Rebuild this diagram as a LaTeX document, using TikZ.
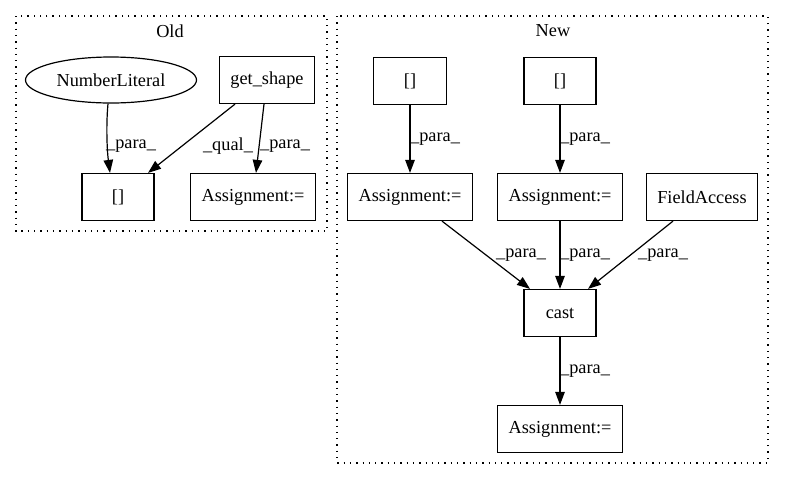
\documentclass[tikz,border=0pt]{standalone}
\usepackage{fontspec}
\setmainfont{Liberation Serif}
\usetikzlibrary{arrows.meta,shapes.geometric}
\begin{document}
\begin{tikzpicture}[x=1pt,y=-1pt,
  every node/.style={font=\fontsize{18.3}{20}\selectfont},
  box/.style={draw,line width=1.2pt,rectangle,minimum height=47pt,inner sep=0pt},
  oval/.style={draw,line width=1.2pt,ellipse,minimum width=171pt,minimum height=46pt,inner sep=0pt},
  cluster/.style={draw,line width=1.2pt,dash pattern=on 1.3pt off 5pt},
  edge/.style={line width=1.2pt,-{Triangle[length=13pt,width=9.5pt]}},
  elabel/.style={inner sep=0pt}]
\useasboundingbox (0,0) rectangle (785,480);
% clusters
\draw[cluster] (16,16) rectangle (327,231);
\node (oldlbl) at (170,31) {Old};
\draw[cluster] (337,16) rectangle (768,463);
\node (newlbl) at (553,31) {New};
% Old nodes
\node[oval] (nl) at (111,80) {NumberLiteral};
\node[box,minimum width=95pt] (gs) at (267,80) {get\_shape};
\node[box,minimum width=72pt] (ob) at (118,197) {[]};
\node[box,minimum width=125pt] (oa) at (253,197) {Assignment:=};
% Old edges
\draw[edge] ([xshift=-3pt]nl.south) .. controls (106,125) and (107,150) .. ([xshift=-8pt]ob.north);
\node[elabel] (l1) at (131,146) {\_para\_};
\draw[edge] ([xshift=-32pt]gs.south) -- ([xshift=30pt]ob.north);
\node[elabel] (l2) at (228,146) {\_qual\_};
\draw[edge] ([xshift=-3pt]gs.south) -- ([xshift=3pt]oa.north);
\node[elabel] (l3) at (285,146) {\_para\_};
% New nodes
\node[box,minimum width=73pt] (nb1) at (410,81) {[]};
\node[box,minimum width=72pt] (nb2) at (560,81) {[]};
\node[box,minimum width=125pt] (na1) at (410,197) {Assignment:=};
\node[box,minimum width=125pt] (na2) at (560,197) {Assignment:=};
\node[box,minimum width=111pt] (fa) at (702,197) {FieldAccess};
\node[box,minimum width=72pt] (cast) at (560,313) {cast};
\node[box,minimum width=125pt] (na3) at (560,429) {Assignment:=};
% New edges
\draw[edge] (nb1) -- (na1);
\node[elabel] (l4) at (435,139) {\_para\_};
\draw[edge] (nb2) -- (na2);
\node[elabel] (l5) at (585,139) {\_para\_};
\draw[edge] ([xshift=32pt]na1.south) -- ([xshift=-30pt]cast.north);
\node[elabel] (l6) at (521,255) {\_para\_};
\draw[edge] (na2) -- (cast);
\node[elabel] (l7) at (585,255) {\_para\_};
\draw[edge] ([xshift=-29pt]fa.south) -- ([xshift=28pt]cast.north);
\node[elabel] (l8) at (663,255) {\_para\_};
\draw[edge] (cast) -- (na3);
\node[elabel] (l9) at (585,371) {\_para\_};
\end{tikzpicture}
\end{document}
